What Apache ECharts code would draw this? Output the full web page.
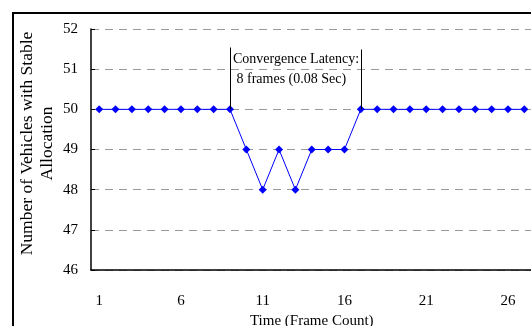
<!DOCTYPE html>
<html><head><meta charset="utf-8">
<script src="https://cdn.jsdelivr.net/npm/echarts@6/dist/echarts.min.js"></script>
<style>html,body{margin:0;padding:0;background:#fff;}#c{width:531px;height:326px;}</style>
</head><body><div id="c"></div>
<script>
var categories = ['1','2','3','4','5','6','7','8','9','10','11','12','13','14','15','16','17','18','19','20','21','22','23','24','25','26','27'];
var stableVehicles = [50,50,50,50,50,50,50,50,50,49,48,49,48,49,49,49,50,50,50,50,50,50,50,50,50,50,50];
var yTicks = {min:46, max:52, interval:1};
var latencyStart = '9', latencyEnd = '17';
var annotationLines = ['Convergence Latency:', ' 8 frames (0.08 Sec)'];
var FONT = '"Liberation Serif", "Times New Roman", serif';

var chart = echarts.init(document.getElementById('c'), null, {renderer:'canvas'});
var border = {type:'rect', shape:{x:13, y:13, width:700, height:500}, style:{fill:null, stroke:'#000', lineWidth:2}, silent:true};
var option = {
  animation:false,
  backgroundColor:'#fff',
  grid:{left:91, top:29, height:241, width:441.5, containLabel:false, outerBoundsMode:'none'},
  xAxis:{
    type:'category', data:categories, boundaryGap:true,
    axisLine:{lineStyle:{color:'#000', width:1.5}},
    axisTick:{inside:true, interval:4, length:5, lineStyle:{color:'#000'}},
    axisLabel:{interval:4, margin:24, color:'#000', fontFamily:FONT, fontSize:15},
    name:'Time (Frame Count)', nameLocation:'middle', nameGap:44, nameMoveOverlap:false,
    nameTextStyle:{color:'#000', fontFamily:FONT, fontSize:15},
    splitLine:{show:false}
  },
  yAxis:{
    type:'value', min:yTicks.min, max:yTicks.max, interval:yTicks.interval,
    axisLine:{show:true, lineStyle:{color:'#000', width:1.5}},
    axisTick:{show:true, inside:true, length:4, lineStyle:{color:'#000'}},
    axisLabel:{margin:13, color:'#000', fontFamily:FONT, fontSize:15},
    splitLine:{show:true, lineStyle:{color:'#999', type:[8,6], width:1}},
    name:'Number of Vehicles with Stable\nAllocation', nameLocation:'middle', nameGap:34, nameMoveOverlap:false,
    nameTextStyle:{color:'#000', fontFamily:FONT, fontSize:17.5, lineHeight:20, padding:[0,0,0,12]}
  },
  series:[{
    type:'line', data:stableVehicles,
    symbol:'diamond', symbolSize:8, showSymbol:true,
    lineStyle:{color:'#0000ff', width:1},
    itemStyle:{color:'#0000ff'},
    markLine:{
      silent:true, symbol:'none', label:{show:false},
      lineStyle:{color:'#000', width:1, type:'solid'},
      data:[
        [{coord:[latencyStart, 50]}, {coord:[latencyStart, 51.54]}],
        [{coord:[latencyEnd, 50]}, {coord:[latencyEnd, 51.49]}]
      ]
    },
    z:3
  }],
  graphic:[border]
};
chart.setOption(option);
var p = chart.convertToPixel({xAxisIndex:0, yAxisIndex:0}, [latencyStart, 51.5]);
chart.setOption({graphic:[
  border,
  {type:'text', x:p[0]+3, y:49, style:{text:annotationLines.join('\n'), font:'14px '+FONT, fill:'#000', lineHeight:20, verticalAlign:'top'}, silent:true}
]});
</script></body></html>
